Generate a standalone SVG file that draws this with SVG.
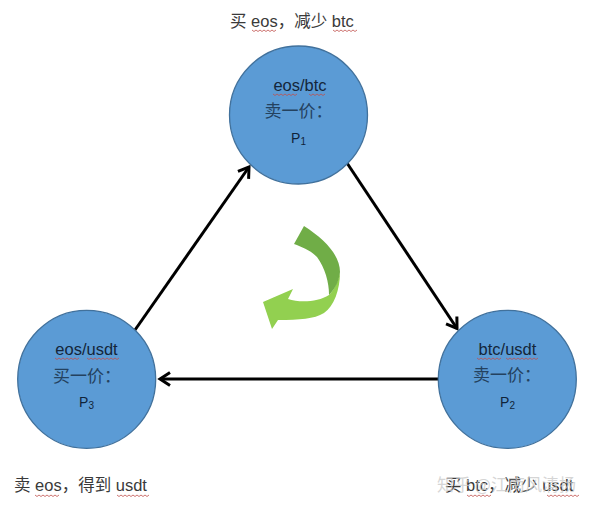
<svg xmlns="http://www.w3.org/2000/svg" width="595" height="508" viewBox="0 0 595 508">
<style>
.n{fill:#5b9bd5;stroke:#41719c;stroke-width:1.3}
.c{fill:none;stroke:#000;stroke-width:3}
.l{font-family:"Liberation Sans","Noto Sans CJK SC",sans-serif;font-size:16.500px;fill:#14263a}
.z{font-family:"Noto Sans CJK SC",sans-serif;font-size:17px;font-weight:400;fill:#24425f}
.p{font-family:"Liberation Sans",sans-serif;font-size:14px;fill:#10243a}
.s{font-size:10px}
.t{font-family:"Liberation Sans","Noto Sans CJK SC",sans-serif;font-size:16.500px;fill:#3a3a3a}
.w{fill:none;stroke:#c0504d;stroke-width:.8}
.m{font-family:"Noto Sans CJK SC",sans-serif;font-size:17px;fill:#c8c8c8;fill-opacity:.75}
</style>
<defs>
<marker id="a" markerUnits="userSpaceOnUse" markerWidth="16" markerHeight="16" refX="13" refY="8" orient="auto"><path d="M3 1.500L13 8L3 14.500" fill="none" stroke="#000" stroke-width="3"/></marker>
<path id="q18" d="M0 0l2 1.500l2-1.500l2 1.500l2-1.500l2 1.500l2-1.500l2 1.500l2-1.500" class="w"/>
<path id="q24" d="M0 0l2 1.500l2-1.500l2 1.500l2-1.500l2 1.500l2-1.500l2 1.500l2-1.500l2 1.500l2-1.500l2 1.500l2-1.500" class="w"/>
<path id="q32" d="M0 0l2 1.500l2-1.500l2 1.500l2-1.500l2 1.500l2-1.500l2 1.500l2-1.500l2 1.500l2-1.500l2 1.500l2-1.500l2 1.500l2-1.500l2 1.500l2-1.500" class="w"/>
</defs>
<rect width="595" height="508" fill="#fff"/>
<g id="connectors">
<path class="c" d="M135 330L249 167" marker-end="url(#a)"/>
<path class="c" d="M347 163L457 328.500" marker-end="url(#a)"/>
<path class="c" d="M440 379L160 379" marker-end="url(#a)"/>
</g>
<g id="curved-arrow">
<path d="M340 272C340 290 334 306 324 313C314 319 300 320 278 320L272 329L263 302L293 289L288 299C300 303 318 302 329 295C334 290 338 282 340 272Z" fill="#92d050"/>
<path d="M304 226C326 240 340 256 340 272C339 280 336 288 329 295C329 282 325 268 317 257C310 250 302 247 294 244Z" fill="#70ad47"/>
</g>
<g id="top-node">
<circle class="n" cx="298.500" cy="115" r="69"/>
<text class="l" x="300" y="91" text-anchor="middle">eos/btc</text>
<use href="#q24" x="273" y="94"/><use href="#q18" x="309" y="94"/>
<text class="z" x="264.500" y="117">卖一价：</text>
<text class="p" x="298.500" y="143" text-anchor="middle">P<tspan class="s" dy="2">1</tspan></text>
</g>
<g id="right-node">
<circle class="n" cx="507.300" cy="379.300" r="69"/>
<text class="l" x="507.500" y="355" text-anchor="middle">btc/usdt</text>
<use href="#q24" x="477" y="358"/><use href="#q32" x="506" y="358"/>
<text class="z" x="473" y="381">卖一价：</text>
<text class="p" x="507.500" y="407" text-anchor="middle">P<tspan class="s" dy="2">2</tspan></text>
</g>
<g id="left-node">
<circle class="n" cx="86.700" cy="379.300" r="69"/>
<text class="l" x="86.500" y="355" text-anchor="middle">eos/usdt</text>
<use href="#q24" x="55" y="358"/><use href="#q32" x="87" y="358"/>
<text class="z" x="53" y="382">买一价：</text>
<text class="p" x="86.500" y="407" text-anchor="middle">P<tspan class="s" dy="2">3</tspan></text>
</g>
<g id="labels">
<text class="t" x="230" y="27">买 eos，减少 btc</text>
<use href="#q24" x="252" y="30"/><use href="#q24" x="333" y="30"/>
<text class="t" x="14" y="491">卖 eos，得到 usdt</text>
<use href="#q24" x="35" y="495"/><use href="#q32" x="117" y="495"/>
<text class="t" x="445" y="491">买 btc，减少 usdt</text>
<use href="#q24" x="467" y="495"/><use href="#q32" x="547" y="495"/>
<text class="m" x="437" y="491">知乎 @江南风清扬</text>
</g>
</svg>
